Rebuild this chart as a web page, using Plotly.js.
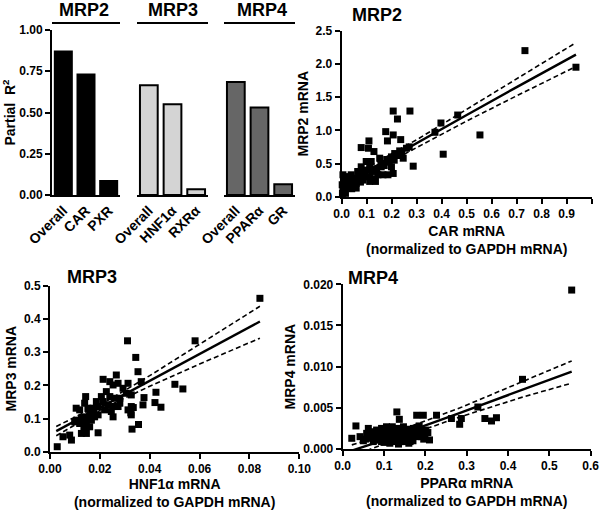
<!DOCTYPE html>
<html>
<head>
<meta charset="utf-8">
<script src="https://cdn.plot.ly/plotly-3.0.1.min.js"></script>
<style>
  html, body { margin: 0; padding: 0; background: #fff; }
  #chart { width: 600px; height: 510px; }
</style>
</head>
<body>
<div id="chart"></div>
<script>
// partial R2 bars, one group per transporter
const mrp2Cats = ['Overall', 'CAR', 'PXR'],
    mrp2R2 = [0.87, 0.73, 0.085],
    mrp3Cats = ['Overall', 'HNF1α', 'RXRα'],
    mrp3R2 = [0.665, 0.55, 0.035],
    mrp4Cats = ['Overall', 'PPARα', 'GR'],
    mrp4R2 = [0.685, 0.53, 0.065];

// MRP2 vs CAR
const carX = [0.206, 0.273, 0.223, 0.176, 0.206, 0.183, 0.236, 0.109, 0.078, 0.107,
    0.129, 0.259, 0.232, 0.212, 0.199, 0.246, 0.286, 0.152, 0.158, 0.118,
    0.098, 0.112, 0.158, 0.199, 0.206, 0.185, 0.165, 0.145, 0.078, 0.064,
    0.091, 0.112, 0.112, 0.085, 0.058, 0.058, 0.038, 0.025, 0.005, 0.012,
    0.032, 0.002, 0.005, 0.018, 0.045, 0.003, 0.397, 0.406, 0.373, 0.464,
    0.553, 0.733, 0.937, 0.05, 0.07, 0.13, 0.18, 0.22, 0.24, 0.10, 0.015, 0.27,
    0.03, 0.04, 0.06, 0.075, 0.09, 0.12, 0.14, 0.17, 0.19, 0.21, 0.135, 0.02, 0.01];
const mrp2Y = [1.29, 1.29, 1.17, 0.98, 0.93, 0.84, 0.86, 0.84, 0.74, 0.73,
    0.68, 0.73, 0.69, 0.65, 0.60, 0.58, 0.46, 0.58, 0.50, 0.53,
    0.53, 0.45, 0.45, 0.45, 0.35, 0.33, 0.33, 0.33, 0.45, 0.38,
    0.35, 0.30, 0.23, 0.25, 0.20, 0.13, 0.33, 0.30, 0.33, 0.23,
    0.25, 0.18, 0.10, 0.15, 0.18, 0.05, 1.11, 0.64, 0.97, 1.23,
    0.93, 2.20, 1.95, 0.28, 0.32, 0.27, 0.56, 0.62, 0.68, 0.40, 0.05, 0.75,
    0.20, 0.12, 0.27, 0.22, 0.30, 0.38, 0.42, 0.47, 0.52, 0.55, 0.23, 0.30, 0.08];
const carFitX = [0, 0.15, 0.31, 0.5, 0.7, 0.937],
    carFit = [0.17, 0.49, 0.82, 1.23, 1.65, 2.14],
    carUpper = [0.24, 0.54, 0.88, 1.32, 1.78, 2.32],
    carLower = [0.10, 0.44, 0.76, 1.14, 1.52, 1.96];

// MRP3 vs HNF1a
const hnfX = [0.0842, 0.0582, 0.0311, 0.0344, 0.0353, 0.0366, 0.0501, 0.0533, 0.0425, 0.0377,
    0.0421, 0.0445, 0.0373, 0.0334, 0.0324, 0.0355, 0.0329, 0.0266, 0.0213, 0.0240,
    0.0253, 0.0273, 0.0313, 0.0293, 0.0226, 0.0206, 0.0240, 0.0260, 0.0280, 0.0306,
    0.0326, 0.0143, 0.0139, 0.0119, 0.0105, 0.0152, 0.0172, 0.0193, 0.0219, 0.0233,
    0.0253, 0.0246, 0.0273, 0.0280, 0.0213, 0.0186, 0.0159, 0.0139, 0.0126, 0.0106,
    0.0099, 0.0119, 0.0146, 0.0166, 0.0179, 0.0193, 0.0159, 0.0136, 0.0126, 0.0146,
    0.0193, 0.0253, 0.0313, 0.0326, 0.0326, 0.0079, 0.0086, 0.0052, 0.0029, 0.0176, 0.0166];
const mrp3Y = [0.462, 0.334, 0.334, 0.284, 0.241, 0.211, 0.203, 0.189, 0.179, 0.163,
    0.148, 0.134, 0.141, 0.133, 0.117, 0.082, 0.068, 0.231, 0.218, 0.211,
    0.201, 0.206, 0.206, 0.191, 0.181, 0.166, 0.166, 0.161, 0.161, 0.176,
    0.171, 0.166, 0.146, 0.126, 0.131, 0.131, 0.131, 0.136, 0.126, 0.141,
    0.136, 0.121, 0.136, 0.146, 0.151, 0.151, 0.116, 0.105, 0.101, 0.095,
    0.090, 0.085, 0.085, 0.095, 0.105, 0.111, 0.075, 0.070, 0.055, 0.055,
    0.057, 0.105, 0.126, 0.111, 0.136, 0.050, 0.035, 0.045, 0.015, 0.120, 0.110];
const hnfFitX = [0.0025, 0.022, 0.04, 0.06, 0.0842],
    hnfFit = [0.062, 0.141, 0.213, 0.294, 0.392],
    hnfUpper = [0.076, 0.149, 0.229, 0.324, 0.438],
    hnfLower = [0.048, 0.133, 0.197, 0.264, 0.342];

// MRP4 vs PPARa
const pparX = [0.554, 0.435, 0.327, 0.263, 0.287, 0.283, 0.344, 0.360, 0.372, 0.227,
    0.195, 0.179, 0.131, 0.137, 0.032, 0.022, 0.042, 0.062, 0.074, 0.082,
    0.094, 0.106, 0.097, 0.119, 0.131, 0.147, 0.159, 0.171, 0.187, 0.199,
    0.210, 0.066, 0.082, 0.097, 0.114, 0.127, 0.143, 0.155, 0.167, 0.179,
    0.191, 0.090, 0.106, 0.122, 0.135, 0.151, 0.163, 0.175, 0.114, 0.139,
    0.074, 0.094, 0.163, 0.185, 0.200, 0.055,
    0.050, 0.058, 0.070, 0.078, 0.086, 0.102, 0.110, 0.118, 0.126, 0.134,
    0.142, 0.148, 0.156, 0.170, 0.182, 0.196, 0.206, 0.120, 0.155, 0.100, 0.135, 0.160];
const mrp4Y = [0.0193, 0.00846, 0.0051, 0.0037, 0.0037, 0.0030, 0.0037, 0.0034, 0.0038, 0.0041,
    0.0041, 0.0041, 0.0045, 0.0036, 0.0028, 0.0013, 0.0015, 0.0025, 0.0017, 0.0023,
    0.0025, 0.0027, 0.0019, 0.0023, 0.0025, 0.0027, 0.0021, 0.0025, 0.0021, 0.0017,
    0.0011, 0.0013, 0.0011, 0.0011, 0.0013, 0.0009, 0.0013, 0.0015, 0.0013, 0.0015,
    0.0015, 0.0015, 0.0017, 0.0018, 0.0019, 0.0021, 0.0017, 0.0021, 0.0007, 0.0009,
    0.0009, 0.0009, 0.0009, 0.0028, 0.0023, 0.0012,
    0.0010, 0.0019, 0.0021, 0.0014, 0.0019, 0.0013, 0.0021, 0.0010, 0.0015, 0.0012,
    0.0017, 0.0009, 0.0019, 0.0010, 0.0018, 0.0012, 0.0020, 0.0027, 0.0024, 0.0008, 0.0006, 0.0007];
const pparFitX = [0.022, 0.13, 0.284, 0.435, 0.554],
    pparFit = [-0.0002, 0.0016, 0.0044, 0.0072, 0.0094],
    pparUpper = [0.0005, 0.0021, 0.0050, 0.0082, 0.0107],
    pparLower = [-0.0009, 0.0012, 0.0039, 0.0063, 0.0080];

const fontFamily = 'Liberation Sans, Arial, sans-serif';

const bar = (x, y, fill, xa) => ({
    type: 'bar', x: x, y: y, xaxis: xa, yaxis: 'y',
    marker: { color: fill, line: { color: '#000', width: 2 } },
    hoverinfo: 'x+y',
});

const dots = (x, y, xa, ya) => ({
    type: 'scatter', mode: 'markers', x: x, y: y, xaxis: xa, yaxis: ya,
    marker: { symbol: 'square', size: 7, color: '#000' },
    cliponaxis: false,
});

const fitLine = (x, y, xa, ya, dashed) => ({
    type: 'scatter', mode: 'lines', x: x, y: y, xaxis: xa, yaxis: ya,
    line: { color: '#000', width: dashed ? 1.6 : 2.4, dash: dashed ? '5px,3px' : 'solid' },
    hoverinfo: 'skip',
});

let data = [
    bar(mrp2Cats, mrp2R2, '#000000', 'x'),
    bar(mrp3Cats, mrp3R2, '#d4d4d4', 'x2'),
    bar(mrp4Cats, mrp4R2, '#666666', 'x3'),
    fitLine(carFitX, carUpper, 'x4', 'y4', true),
    fitLine(carFitX, carLower, 'x4', 'y4', true),
    fitLine(carFitX, carFit, 'x4', 'y4', false),
    dots(carX, mrp2Y, 'x4', 'y4'),
    fitLine(hnfFitX, hnfUpper, 'x5', 'y5', true),
    fitLine(hnfFitX, hnfLower, 'x5', 'y5', true),
    fitLine(hnfFitX, hnfFit, 'x5', 'y5', false),
    dots(hnfX, mrp3Y, 'x5', 'y5'),
    fitLine(pparFitX, pparUpper, 'x6', 'y6', true),
    fitLine(pparFitX, pparLower, 'x6', 'y6', true),
    fitLine(pparFitX, pparFit, 'x6', 'y6', false),
    dots(pparX, mrp4Y, 'x6', 'y6'),
];

const axis = (extra) => Object.assign({
    showline: true, linewidth: 2, linecolor: '#000',
    ticks: 'outside', ticklen: 5, tickwidth: 2, tickcolor: '#000',
    showgrid: false, zeroline: false,
    tickfont: { size: 12, weight: 'bold' },
}, extra);

const catAxis = (domain) => axis({
    domain: domain, anchor: 'y', type: 'category', ticks: '',
    tickangle: -45, tickfont: { size: 14, weight: 'bold' },
});

const xTitle = (name) => ({
    text: `${name} mRNA<br>(normalized to GAPDH mRNA)`,
    font: { size: 14, weight: 'bold' }, standoff: 6,
});

const yTitle = (name) => ({
    text: `${name} mRNA`, font: { size: 14, weight: 'bold' }, standoff: 4,
});

const panelTitle = (txt, x, y) => ({
    text: txt, xref: 'paper', yref: 'paper', x: x / 600, y: 1 - y / 510,
    xanchor: 'center', yanchor: 'middle', showarrow: false,
    font: { size: 18, weight: 'bold' },
});

const groupLine = (xa) => ({
    type: 'line', xref: `${xa} domain`, yref: 'paper',
    x0: 0, x1: 1, y0: 1 - 23 / 510, y1: 1 - 23 / 510,
    line: { color: '#000', width: 2 },
});

let layout = {
    width: 600, height: 510,
    margin: { l: 0, r: 0, t: 0, b: 0 },
    paper_bgcolor: '#fff', plot_bgcolor: 'rgba(0,0,0,0)',
    showlegend: false,
    bargap: 0.25,
    font: { family: fontFamily, size: 12, color: '#000', weight: 'bold' },
    xaxis: catAxis([52 / 600, 120 / 600]),
    xaxis2: catAxis([137 / 600, 208 / 600]),
    xaxis3: catAxis([224 / 600, 295 / 600]),
    yaxis: axis({
        domain: [1 - 195 / 510, 1 - 30 / 510], anchor: 'x', range: [0, 1],
        tickvals: [0, 0.25, 0.5, 0.75, 1], tickformat: '.2f',
        title: { text: 'Partial  R<sup>2</sup>', font: { size: 14, weight: 'bold' }, standoff: 6 },
    }),
    xaxis4: axis({
        domain: [341.7 / 600, 591.7 / 600], anchor: 'y4', range: [0, 1],
        dtick: 0.1, tickformat: '.1f', title: xTitle('CAR'),
    }),
    yaxis4: axis({
        domain: [1 - 196.7 / 510, 1 - 30.7 / 510], anchor: 'x4', range: [0, 2.5],
        dtick: 0.5, tickformat: '.1f', title: yTitle('MRP2'),
    }),
    xaxis5: axis({
        domain: [50 / 600, 299.3 / 600], anchor: 'y5', range: [0, 0.1],
        dtick: 0.02, tickformat: '.2f', title: xTitle('HNF1α'),
    }),
    yaxis5: axis({
        domain: [1 - 451.7 / 510, 1 - 285.7 / 510], anchor: 'x5', range: [0, 0.5],
        dtick: 0.1, tickformat: '.1f', title: yTitle('MRP3'),
    }),
    xaxis6: axis({
        domain: [342.7 / 600, 590.7 / 600], anchor: 'y6', range: [0, 0.6],
        dtick: 0.1, tickformat: '.1f', title: xTitle('PPARα'),
    }),
    yaxis6: axis({
        domain: [1 - 449 / 510, 1 - 284.3 / 510], anchor: 'x6', range: [0, 0.02],
        dtick: 0.005, tickformat: '.3f', title: yTitle('MRP4'),
    }),
    shapes: [groupLine('x'), groupLine('x2'), groupLine('x3')],
    annotations: [
        panelTitle('MRP2', 84, 10),
        panelTitle('MRP3', 173, 10),
        panelTitle('MRP4', 262, 10),
        panelTitle('MRP2', 377, 15),
        panelTitle('MRP3', 92, 277),
        panelTitle('MRP4', 373, 278),
    ],
},
    config = { staticPlot: true };

Plotly.newPlot('chart', data, layout, config);
</script>
</body>
</html>
